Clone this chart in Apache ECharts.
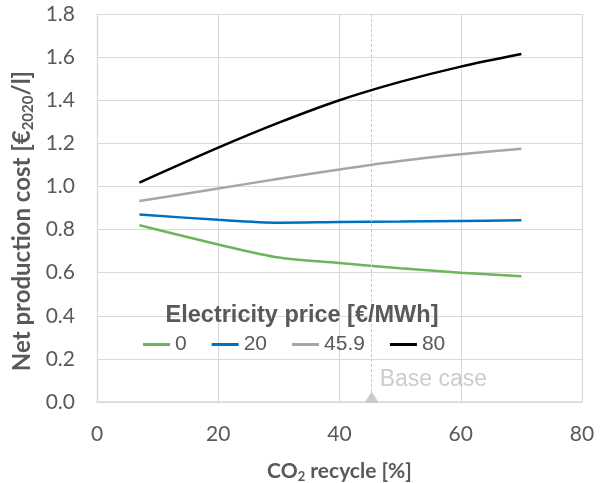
<!DOCTYPE html>
<html>
<head>
<meta charset="utf-8">
<script src="https://cdn.jsdelivr.net/npm/echarts@6/dist/echarts.min.js"></script>
<style>
  html, body { margin: 0; padding: 0; background: #fff; }
  #chart { width: 609px; height: 483px; }
</style>
</head>
<body>
<div id="chart"></div>
<script>
// CO2 recycle share [%] along the x axis
const recycle = [7, 20, 30, 40, 50, 60, 70];
// Net production cost [€2020/l] for each electricity price [€/MWh]
const priceLabels = ['0', '20', '45.9', '80'];
const cost0 = [0.820, 0.731, 0.670, 0.645, 0.620, 0.600, 0.583];
const cost20 = [0.870, 0.845, 0.832, 0.835, 0.837, 0.840, 0.843];
const cost459 = [0.932, 0.990, 1.036, 1.079, 1.118, 1.149, 1.175];
const cost80 = [1.018, 1.180, 1.296, 1.400, 1.485, 1.556, 1.614];
const seriesColors = ['#6cb55c', '#0070c0', '#a6a6a6', '#000000'];
// Base case recycle share
const baseCaseX = 45.3;
const yTicks = [0, 0.2, 0.4, 0.6, 0.8, 1.0, 1.2, 1.4, 1.6, 1.8];
const xTicks = [0, 20, 40, 60, 80];

const calibri = 'Lato, "Open Sans", sans-serif';
const arial = '"Liberation Sans", Arial, sans-serif';
const axisGray = '#595959';
const gridGray = '#d9d9d9';

const chart = echarts.init(document.getElementById('chart'), null, { renderer: 'canvas' });

const lineData = [cost0, cost20, cost459, cost80];
const lineSeries = lineData.map((vals, i) => ({
  name: priceLabels[i],
  type: 'line',
  smooth: 0.3,
  showSymbol: false,
  symbol: 'none',
  data: recycle.map((x, j) => [x, vals[j]]),
  lineStyle: { color: seriesColors[i], width: 2.5 },
  itemStyle: { color: seriesColors[i] },
  z: 3 + i
}));

chart.setOption({
  animation: false,
  backgroundColor: '#ffffff',
  title: {
    text: 'Electricity price [€/MWh]',
    left: 302,
    top: 304,
    padding: 0,
    textAlign: 'center',
    textStyle: { fontFamily: arial, fontWeight: 'bold', fontSize: 23.5, color: axisGray }
  },
  legend: {
    data: priceLabels,
    left: 138,
    top: 329,
    itemWidth: 27,
    itemHeight: 3,
    itemGap: 25,
    icon: 'rect',
    textStyle: { fontFamily: arial, fontSize: 21, color: axisGray }
  },
  grid: { left: 97, right: 27, top: 14, bottom: 81, containLabel: false, outerBoundsMode: 'none' },
  xAxis: {
    type: 'value',
    min: xTicks[0],
    max: xTicks[xTicks.length - 1],
    interval: 20,
    name: '{a|CO}{s|2}{a| recycle [%]}',
    nameLocation: 'middle',
    nameGap: 57,
    nameTextStyle: {
      rich: {
        a: { fontFamily: calibri, fontWeight: 'bold', fontSize: 21, color: axisGray },
        s: { fontFamily: calibri, fontWeight: 'bold', fontSize: 13, color: axisGray, padding: [11, 0, 0, 0] }
      }
    },
    axisLine: { show: true, lineStyle: { color: gridGray, width: 1.5 } },
    axisTick: { show: false },
    axisLabel: { fontFamily: calibri, fontSize: 21, color: axisGray, margin: 22 },
    splitLine: { show: true, lineStyle: { color: gridGray, width: 1.2 } }
  },
  yAxis: {
    type: 'value',
    min: yTicks[0],
    max: yTicks[yTicks.length - 1],
    interval: 0.2,
    axisLine: { show: true, lineStyle: { color: gridGray, width: 1.2 } },
    axisTick: { show: false },
    axisLabel: {
      fontFamily: calibri, fontSize: 21, color: axisGray, margin: 22,
      formatter: v => v.toFixed(1)
    },
    splitLine: { show: true, lineStyle: { color: gridGray, width: 1.2 } }
  },
  // Vertical y-axis title with a subscripted year
  graphic: [{
    type: 'text',
    x: 22,
    y: 221,
    rotation: Math.PI / 2,
    style: {
      text: '{a|Net production cost [€}{s|2020}{a|/l]}',
      align: 'center',
      verticalAlign: 'middle',
      rich: {
        a: { fontFamily: calibri, fontWeight: 'bold', fontSize: 24, fill: axisGray },
        s: { fontFamily: calibri, fontWeight: 'bold', fontSize: 15, fill: axisGray, padding: [12, 0, 0, 0] }
      }
    }
  }],
  series: [
    ...lineSeries,
    {
      name: 'Base case',
      type: 'scatter',
      data: [[baseCaseX, 0]],
      symbol: 'triangle',
      symbolSize: [14, 11],
      symbolOffset: [0, -5],
      itemStyle: { color: '#bfbfbf' },
      label: {
        show: true,
        formatter: 'Base case',
        position: 'right',
        distance: 1,
        offset: [0, -17],
        fontFamily: arial,
        fontSize: 23,
        color: '#bfbfbf'
      },
      markLine: {
        silent: true,
        symbol: 'none',
        label: { show: false },
        lineStyle: { color: '#c8c8c8', type: [3, 2], width: 1 },
        data: [{ xAxis: baseCaseX }]
      },
      z: 2
    }
  ]
});
</script>
</body>
</html>
